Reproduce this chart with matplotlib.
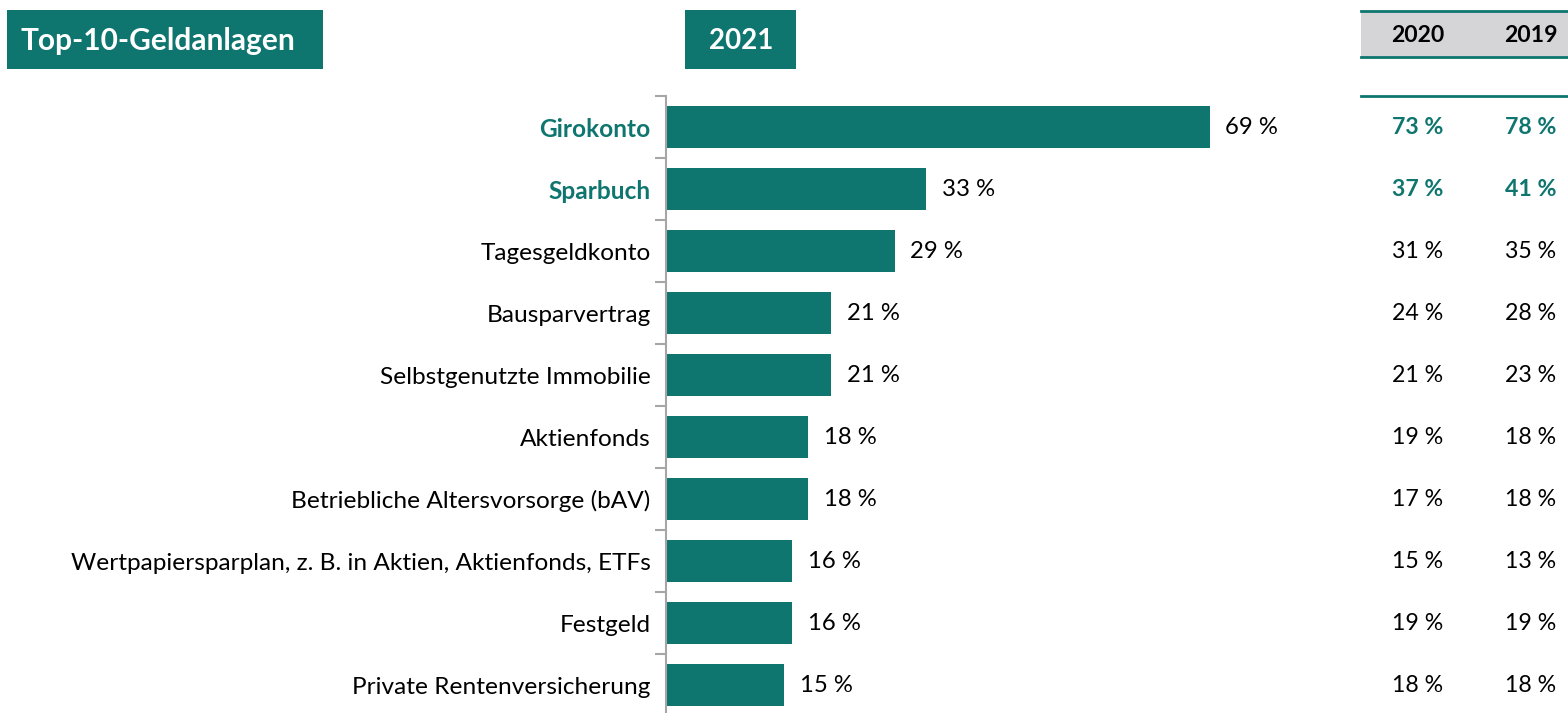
import matplotlib
matplotlib.use("Agg")
import matplotlib.pyplot as plt
from matplotlib.patches import Rectangle
from matplotlib.transforms import blended_transform_factory

plt.rcParams['font.family'] = ['Lato', 'DejaVu Sans']

categories = ["Girokonto", "Sparbuch", "Tagesgeldkonto", "Bausparvertrag",
              "Selbstgenutzte Immobilie", "Aktienfonds",
              "Betriebliche Altersvorsorge (bAV)",
              "Wertpapiersparplan, z. B. in Aktien, Aktienfonds, ETFs",
              "Festgeld", "Private Rentenversicherung"]
values_2021 = [69, 33, 29, 21, 21, 18, 18, 16, 16, 15]
values_2020 = [73, 37, 31, 24, 21, 19, 17, 15, 19, 18]
values_2019 = [78, 41, 35, 28, 23, 18, 18, 13, 19, 18]
highlight = [True, True, False, False, False, False, False, False, False, False]

TEAL = "#0E756F"
GRAY_BG = "#D5D5D7"
W, H = 1568, 713
FS = 17.2

fig = plt.figure(figsize=(W / 100, H / 100), dpi=100)

ax_left = 666 / W
ax_w = 684 / W
ax_top = 96
ax_h = 620
ax = fig.add_axes([ax_left, 1 - (ax_top + ax_h) / H, ax_w, ax_h / H])
n = len(categories)
y = list(range(n))
ax.barh(y, values_2021, height=0.68, color=TEAL)
ax.set_xlim(0, 684 / 7.88)
ax.set_ylim(n - 0.5, -0.5)
ax.set_xticks([])
for s in ["top", "right", "bottom"]:
    ax.spines[s].set_visible(False)
ax.spines["left"].set_color("#A6A6A6")
ax.spines["left"].set_linewidth(1.5)
ax.set_yticks([i - 0.5 for i in range(n + 1)])
ax.set_yticklabels([])
ax.tick_params(axis="y", length=8, width=1.5, color="#A6A6A6", direction="out")
ax.set_yticks(y, minor=True)
ax.set_yticklabels(categories, minor=True)
ax.tick_params(axis="y", which="minor", length=0, pad=11, labelsize=FS + 0.4)
for lbl, hl in zip(ax.get_yticklabels(minor=True), highlight):
    if hl:
        lbl.set_color(TEAL)
        lbl.set_fontweight("bold")
    else:
        lbl.set_color("black")

for i, v in enumerate(values_2021):
    ax.text(v + 2.0, i, f"{v} %", va="center", ha="left", fontsize=FS, color="black")

tr = blended_transform_factory(fig.transFigure, ax.transData)
x20, x19 = 1418 / W, 1531 / W
for i in range(n):
    c = TEAL if highlight[i] else "black"
    w = "bold" if highlight[i] else "normal"
    ax.text(x20, i, f"{values_2020[i]} %", transform=tr, ha="center", va="center",
            fontsize=FS - 0.5, color=c, fontweight=w, clip_on=False)
    ax.text(x19, i, f"{values_2019[i]} %", transform=tr, ha="center", va="center",
            fontsize=FS - 0.5, color=c, fontweight=w, clip_on=False)

def px_rect(x0, y0, x1, y1, **kw):
    fig.patches.append(Rectangle((x0 / W, 1 - y1 / H), (x1 - x0) / W, (y1 - y0) / H,
                                 transform=fig.transFigure, **kw))

px_rect(1361, 11, 1568, 57, facecolor=GRAY_BG, edgecolor="none")
for yy in (11, 57, 96):
    fig.add_artist(plt.Line2D([1361 / W, 1568 / W], [1 - yy / H, 1 - yy / H],
                              color=TEAL, linewidth=2))
fig.text(x20, 1 - 35 / H, "2020", ha="center", va="center", fontsize=FS - 0.6, fontweight="bold")
fig.text(x19, 1 - 35 / H, "2019", ha="center", va="center", fontsize=FS - 0.6, fontweight="bold")

px_rect(7, 10, 323, 69, facecolor=TEAL, edgecolor="none")
fig.text(158 / W, 1 - 41 / H, "Top-10-Geldanlagen", ha="center", va="center",
         fontsize=21.5, fontweight="bold", color="white")
px_rect(685, 10, 796, 69, facecolor=TEAL, edgecolor="none")
fig.text(741 / W, 1 - 41 / H, "2021", ha="center", va="center",
         fontsize=20, fontweight="bold", color="white")

fig.savefig("out.png", dpi=100)
